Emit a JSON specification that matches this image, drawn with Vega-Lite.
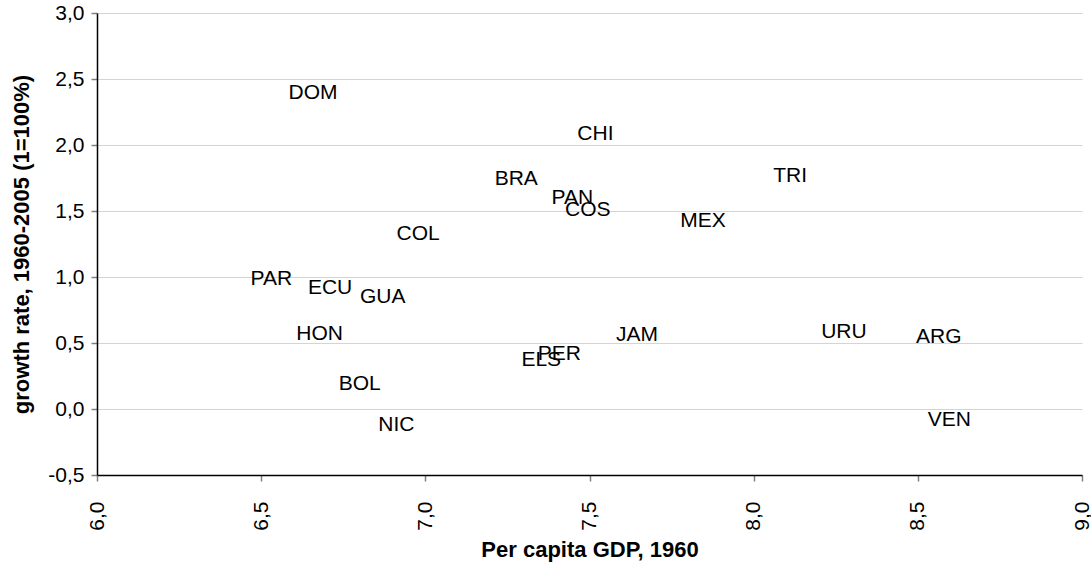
{
  "$schema": "https://vega.github.io/schema/vega-lite/v6.json",
  "autosize": "none",
  "width": 985,
  "height": 462,
  "padding": {"left": 97, "top": 13, "right": 9, "bottom": 92},
  "background": "white",
  "config": {
    "view": {"stroke": null},
    "font": "Liberation Sans",
    "axis": {
      "labelFont": "Liberation Sans",
      "titleFont": "Liberation Sans",
      "labelColor": "#000000",
      "titleColor": "#000000",
      "labelFontSize": 21,
      "titleFontSize": 22,
      "titleFontWeight": "bold",
      "domainColor": "#000000",
      "domainWidth": 1.5,
      "tickColor": "#808080",
      "tickWidth": 1.5,
      "tickSize": 6,
      "gridColor": "#d4d4d4",
      "gridWidth": 1
    }
  },
  "data": {
    "values": [
      {"country": "DOM", "gdp": 6.658, "growth": 2.394},
      {"country": "CHI", "gdp": 7.518, "growth": 2.087},
      {"country": "BRA", "gdp": 7.277, "growth": 1.746},
      {"country": "PAN", "gdp": 7.448, "growth": 1.602},
      {"country": "COS", "gdp": 7.495, "growth": 1.511},
      {"country": "TRI", "gdp": 8.111, "growth": 1.765},
      {"country": "MEX", "gdp": 7.846, "growth": 1.428},
      {"country": "COL", "gdp": 6.978, "growth": 1.326},
      {"country": "PAR", "gdp": 6.531, "growth": 0.985},
      {"country": "ECU", "gdp": 6.710, "growth": 0.917},
      {"country": "GUA", "gdp": 6.870, "growth": 0.848},
      {"country": "HON", "gdp": 6.678, "growth": 0.568},
      {"country": "JAM", "gdp": 7.645, "growth": 0.564},
      {"country": "URU", "gdp": 8.275, "growth": 0.587},
      {"country": "ARG", "gdp": 8.564, "growth": 0.545},
      {"country": "PER", "gdp": 7.408, "growth": 0.413},
      {"country": "ELS", "gdp": 7.353, "growth": 0.375},
      {"country": "BOL", "gdp": 6.800, "growth": 0.189},
      {"country": "NIC", "gdp": 6.912, "growth": -0.121},
      {"country": "VEN", "gdp": 8.596, "growth": -0.083}
    ]
  },
  "mark": {"type": "text", "fontSize": 21, "font": "Liberation Sans", "color": "#000000", "align": "center", "baseline": "middle"},
  "encoding": {
    "x": {
      "field": "gdp",
      "type": "quantitative",
      "scale": {"domain": [6, 9], "nice": false, "zero": false},
      "axis": {
        "title": "Per capita GDP, 1960",
        "values": [6, 6.5, 7, 7.5, 8, 8.5, 9],
        "labelExpr": "replace(format(datum.value, '.1f'), '.', ',')",
        "labelAngle": -90,
        "labelAlign": "right",
        "labelBaseline": "middle",
        "labelPadding": 20,
        "grid": false,
        "titlePadding": 9
      }
    },
    "y": {
      "field": "growth",
      "type": "quantitative",
      "scale": {"domain": [-0.5, 3], "nice": false, "zero": false},
      "axis": {
        "title": "growth rate, 1960-2005 (1=100%)",
        "values": [-0.5, 0, 0.5, 1, 1.5, 2, 2.5, 3],
        "labelExpr": "replace(replace(format(datum.value, '.1f'), '.', ','), '\u2212', '-')",
        "labelPadding": 7,
        "grid": true,
        "titlePadding": 14
      }
    },
    "text": {"field": "country", "type": "nominal"}
  }
}
